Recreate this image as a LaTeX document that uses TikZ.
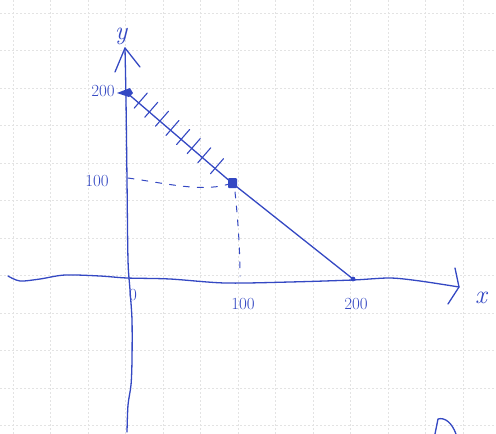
\documentclass[tikz,border=0pt]{standalone}
\usepackage{fontspec}
\begin{document}
\begin{tikzpicture}[x=1pt,y=-1pt,
  ink/.style={draw=inkblue,line width=1.3pt,line cap=round,line join=round},
  gridline/.style={draw=black!11,line width=0.5pt,dash pattern=on 2pt off 2pt},
  lbl/.style={text=inkblue,font=\fontsize{17}{19}\selectfont,inner sep=0pt},
  dashline/.style={ink,line width=1pt,dash pattern=on 6pt off 8pt}]
\definecolor{inkblue}{RGB}{52,72,195}
\useasboundingbox (0,0) rectangle (496,434);
\fill[white] (0,0) rectangle (496,434);
% grid
\foreach \k in {0,...,12}{
  \draw[gridline] ({13+37.5*\k},0) -- ({13+37.5*\k},434);
  \draw[gridline] (0,{13+37.5*\k}) -- (496,{13+37.5*\k});
}
% key points
\coordinate (O) at (127,278);
\coordinate (A) at (126,92);
\coordinate (B) at (232,183);
\coordinate (C) at (353,279);
\coordinate (Ay) at (128,178);
\coordinate (Bx) at (240,276);
\coordinate (ytip) at (125,48);
\coordinate (xtip) at (459,287);
% axes
\draw[ink] plot[smooth] coordinates {(127,432) (128,405) (131,385) (132,360) (132,320) (130,290) (128,260) (127,180) (126,100) (ytip)};
\draw[ink] (115,72) -- (ytip) -- (140,67);
\draw[ink] plot[smooth] coordinates {(8,276) (20,281) (40,279) (65,275) (100,276) (127,278) (170,279) (225,283) (290,282) (353,280) (390,278) (420,281) (xtip)};
\draw[ink] (455,268) -- (xtip) -- (448,304);
% constraint line
\draw[ink] (A) -- (B) -- (C);
% hatching
\foreach \t in {0.12,0.22,0.32,0.42,0.52,0.62,0.72,0.84}{
  \pgfmathsetmacro{\px}{126+106*\t}
  \pgfmathsetmacro{\py}{92+91*\t}
  \draw[ink,line width=1.1pt] ({\px-4.5},{\py+5.2}) -- ({\px+8.5},{\py-9.8});
}
% dashed guides
\draw[dashline] (Ay) .. controls (170,184) and (205,193) .. (B);
\draw[dashline] (235,192) .. controls (238,220) and (240,250) .. (Bx);
% point marks
\fill[inkblue] (A) ++(-9,1) -- ++(13,-5) -- ++(3,5) -- ++(-4,4) -- cycle;
\fill[inkblue,rounded corners=1pt] (228,178) rectangle (237,188);
\fill[inkblue] (C) circle (2.4);
% labels
\node[lbl] (l200y) at (103,91) {200};
\node[lbl] (l100y) at (97,181) {100};
\node[lbl] (l0) at (133,295) {0};
\node[lbl] (l100x) at (243,304) {100};
\node[lbl] (l200x) at (356,304) {200};
\node[lbl,font=\fontsize{26}{28}\selectfont\itshape] (ly) at (121,36) {y};
\node[lbl,font=\fontsize{26}{28}\selectfont\itshape] (lx) at (481,298) {x};
% partial letter at bottom right
\draw[ink] (435,434) -- (438,419) .. controls (445,417) and (452,423) .. (456,434);
\end{tikzpicture}
\end{document}
